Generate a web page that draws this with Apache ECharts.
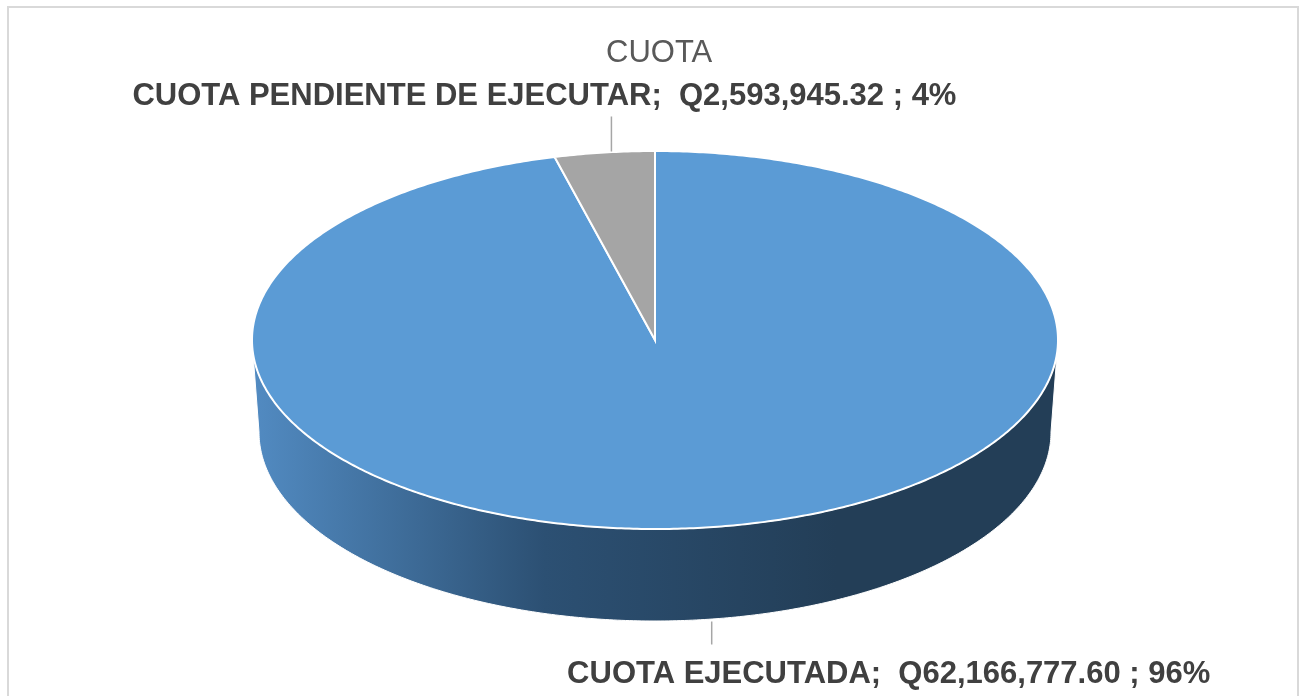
<!DOCTYPE html>
<html>
<head>
<meta charset="utf-8">
<script src="https://cdn.jsdelivr.net/npm/echarts@6/dist/echarts.min.js"></script>
<style>
  html, body { margin: 0; padding: 0; background: #ffffff; overflow: hidden; }
  #frame { position: absolute; left: 7px; top: 6px; width: 1288px; height: 720px; border: 2px solid #d9d9d9; }
  #main { position: absolute; left: 0; top: 0; width: 1299px; height: 696px; }
</style>
</head>
<body>
<div id="frame"></div>
<div id="main"></div>
<script>
// datos del gráfico
const titleText = 'CUOTA'
const categories = ['CUOTA EJECUTADA', 'CUOTA PENDIENTE DE EJECUTAR']
const values = [62166777.60, 2593945.32]
const colors = ['#5b9bd5', '#a5a5a5']
const sideColors = [['#528bc2', '#2c5073', '#233e57'], ['#8c8c8c', '#5a5a5a']]

const total = values.reduce((a, b) => a + b, 0)

// geometría del pastel 3D (elipse)
const cx = 655, cy = 340, rx = 403, ry = 189, depth = 92, rxBottom = 396
// posición de las etiquetas respecto al final de la línea guía
const labelOffsets = [[177, 30], [-67, -20]]

const myChart = echarts.init(document.getElementById('main'))

function topPt(t) {
  return [cx + rx * Math.sin(t), cy - ry * Math.cos(t)]
}
function botPt(t) {
  return [cx + rxBottom * Math.sin(t), cy - ry * Math.cos(t) + depth]
}
function arc(fn, a0, a1) {
  const pts = []
  const n = Math.max(2, Math.ceil(Math.abs(a1 - a0) / 0.01))
  for (let k = 0; k <= n; k++) pts.push(fn(a0 + (a1 - a0) * k / n))
  return pts
}

function renderItem(params, api) {
  const i = params.dataIndex
  const v = api.value(0)
  let before = 0
  for (let k = 0; k < i; k++) before += values[k]
  const a0 = (before / total) * Math.PI * 2
  const a1 = ((before + v) / total) * Math.PI * 2
  const children = []

  // pared lateral (solo la parte frontal)
  const s = Math.max(a0, Math.PI / 2)
  const e = Math.min(a1, Math.PI * 1.5)
  if (e > s) {
    const pts = arc(topPt, s, e).concat(arc(botPt, e, s))
    const stops = sideColors[i].map((c, j, arr) => ({ offset: j / (arr.length - 1), color: c }))
    children.push({
      type: 'polygon',
      z2: 1,
      shape: { points: pts },
      style: {
        fill: new echarts.graphic.LinearGradient(cx - rx, 0, cx + rx * 0.45, 0, stops, true),
        stroke: '#ffffff',
        lineWidth: 1
      }
    })
  }

  // cara superior
  children.push({
    type: 'polygon',
    z2: 10,
    shape: { points: [[cx, cy]].concat(arc(topPt, a0, a1)) },
    style: { fill: colors[i], stroke: '#ffffff', lineWidth: 2 }
  })

  // línea guía y etiqueta
  const mid = (a0 + a1) / 2
  const front = Math.cos(mid) < 0
  const p = front ? botPt(mid) : topPt(mid)
  const lx = p[0] + (front ? 7 : 7)
  const end = front ? [lx, p[1] + 25] : [lx, p[1] - 36]
  children.push({
    type: 'line',
    z2: 12,
    shape: { x1: lx, y1: p[1] + (front ? 2 : -1), x2: end[0], y2: end[1] },
    style: { stroke: '#a6a6a6', lineWidth: 1.5 }
  })
  const pct = Math.round((v / total) * 100)
  const money = v.toLocaleString('en-US', { minimumFractionDigits: 2, maximumFractionDigits: 2 })
  children.push({
    type: 'text',
    z2: 12,
    x: end[0] + labelOffsets[i][0],
    y: end[1] + labelOffsets[i][1],
    style: {
      text: categories[i] + ';  Q' + money + ' ; ' + pct + '%',
      fill: '#404040',
      font: 'bold 31px "Liberation Sans", Arial, sans-serif',
      align: 'center',
      verticalAlign: 'middle'
    }
  })

  return { type: 'group', children }
}

const option = {
  animation: false,
  title: {
    text: titleText,
    left: 601,
    top: 33,
    textStyle: {
      fontFamily: 'Liberation Sans',
      fontSize: 31,
      fontWeight: 'normal',
      color: '#595959'
    }
  },
  series: [
    {
      type: 'custom',
      coordinateSystem: 'none',
      renderItem: renderItem,
      data: values.map((v, i) => ({ name: categories[i], value: [v] }))
    }
  ]
}

myChart.setOption(option)
</script>
</body>
</html>
